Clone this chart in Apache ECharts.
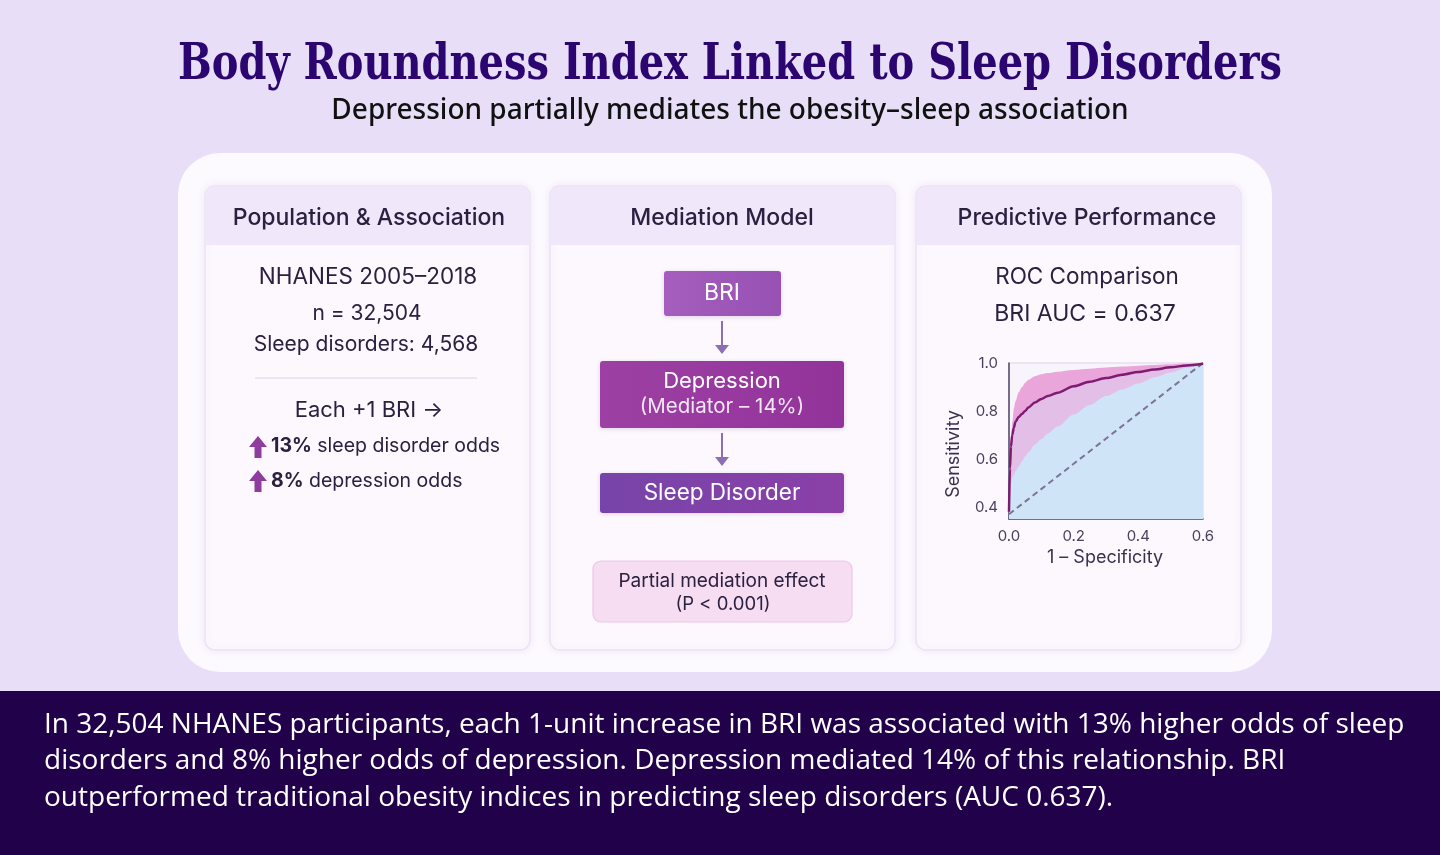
<!DOCTYPE html>
<html>
<head>
<meta charset="utf-8">
<title>Body Roundness Index Linked to Sleep Disorders</title>
<script src="https://cdn.jsdelivr.net/npm/echarts@6/dist/echarts.min.js"></script>
<style>
html, body { margin: 0; padding: 0; background: #E9DEF8; }
#main { width: 1440px; height: 855px; }
</style>
</head>
<body>
<div id="main"></div>
<script>
// ---- data ----
const fprValues = [0, 0.003, 0.006, 0.01, 0.015, 0.02, 0.03, 0.04, 0.05, 0.06, 0.08, 0.1, 0.12, 0.15, 0.2, 0.25, 0.3, 0.35, 0.4, 0.45, 0.5, 0.55, 0.6];
const rocTpr = [0.38, 0.56, 0.65, 0.70, 0.73, 0.755, 0.775, 0.788, 0.80, 0.815, 0.835, 0.85, 0.862, 0.876, 0.903, 0.922, 0.937, 0.951, 0.963, 0.973, 0.982, 0.99, 0.997];
const upperTpr = [0.40, 0.56, 0.67, 0.75, 0.81, 0.84, 0.878, 0.9, 0.918, 0.93, 0.945, 0.953, 0.958, 0.964, 0.971, 0.976, 0.981, 0.985, 0.989, 0.992, 0.995, 0.998, 1.0];
const lowerTpr = [0.36, 0.44, 0.50, 0.52, 0.535, 0.548, 0.57, 0.59, 0.61, 0.627, 0.66, 0.682, 0.706, 0.735, 0.785, 0.825, 0.862, 0.89, 0.915, 0.94, 0.96, 0.98, 1.0];
const chanceLine = [[0, 0.37], [0.6, 1.0]];
const yTickValues = [0.4, 0.6, 0.8, 1.0];

// ---- texts ----
const titleText = 'Body Roundness Index Linked to Sleep Disorders';
const subtitleText = 'Depression partially mediates the obesity\u2013sleep association';
const panelTitles = ['Population & Association', 'Mediation Model', 'Predictive Performance'];
const populationLines = ['NHANES 2005\u20132018', 'n = 32,504', 'Sleep disorders: 4,568'];
const effectHeading = 'Each +1 BRI \u2192';
const effectLines = [['13%', ' sleep disorder odds'], ['8%', ' depression odds']];
const mediationNodes = ['BRI', 'Depression\n(Mediator \u2013 14%)', 'Sleep Disorder'];
const mediationNote = 'Partial mediation effect\n(P < 0.001)';
const rocLines = ['ROC Comparison', 'BRI AUC = 0.637'];
const footerLines = [
    'In 32,504 NHANES participants, each 1-unit increase in BRI was associated with 13% higher odds of sleep',
    'disorders and 8% higher odds of depression. Depression mediated 14% of this relationship. BRI',
    'outperformed traditional obesity indices in predicting sleep disorders (AUC 0.637).'
];

const ink = '#2A2140';
const sans = 'Inter, "Noto Sans", sans-serif';

function zip(xs, ys) {
    return xs.map((x, i) => [x, ys[i]]);
}

// fit a string to the width it has in the picture
function fitScale(str, font, target) {
    const ctx = document.createElement('canvas').getContext('2d');
    ctx.font = font;
    return target / ctx.measureText(str).width;
}

function text(str, x, y, font, fill, extra) {
    return Object.assign({
        type: 'text',
        z: 10,
        style: {
            text: str, x: x, y: y, font: font, fill: fill,
            align: 'center', verticalAlign: 'middle',
            textAlign: 'center', textVerticalAlign: 'middle'
        }
    }, extra || {});
}

function panel(x, w, title, cx) {
    return [
        {
            type: 'rect', z: -4,
            shape: { x: x, y: 186, width: w, height: 464, r: 10 },
            style: { fill: '#FCF8FE', stroke: '#ECE2F4', lineWidth: 1.5, shadowBlur: 8, shadowColor: 'rgba(120,80,170,0.10)' }
        },
        {
            type: 'rect', z: -3,
            shape: { x: x + 1, y: 187, width: w - 2, height: 58, r: [9, 9, 0, 0] },
            style: { fill: '#F1E7FA' }
        },
        text(title, cx, 218, '500 23px ' + sans, ink)
    ];
}

function upArrow(x, y) {
    return {
        type: 'polygon', z: 10,
        shape: { points: [[x, y], [x + 9, y + 11], [x + 3.5, y + 11], [x + 3.5, y + 22], [x - 3.5, y + 22], [x - 3.5, y + 11], [x - 9, y + 11]] },
        style: { fill: '#8E3C9E' }
    };
}

function downArrow(x, y0, y1) {
    return [
        { type: 'line', z: 10, shape: { x1: x, y1: y0, x2: x, y2: y1 - 8 }, style: { stroke: '#8C6EB4', lineWidth: 2 } },
        { type: 'polygon', z: 10, shape: { points: [[x - 7, y1 - 9], [x + 7, y1 - 9], [x, y1]] }, style: { fill: '#8C6EB4' } }
    ];
}

function box(x, y, w, h, c0, c1) {
    return {
        type: 'rect', z: 5,
        shape: { x: x, y: y, width: w, height: h, r: 3 },
        style: {
            fill: new echarts.graphic.LinearGradient(0, 0, 1, 0, [{ offset: 0, color: c0 }, { offset: 1, color: c1 }]),
            shadowBlur: 4, shadowColor: 'rgba(90,30,120,0.18)', shadowOffsetY: 1
        }
    };
}

const titleFont = 'bold 50px "DejaVu Serif"';
const sx = fitScale(titleText, titleFont, 1104);

const elements = [].concat(
    // big white card
    [{
        type: 'rect', z: -6,
        shape: { x: 178, y: 153, width: 1094, height: 519, r: 42 },
        style: { fill: '#FDFAFF' }
    }],
    // footer band
    [{
        type: 'rect', z: -6,
        shape: { x: 0, y: 691, width: 1440, height: 164 },
        style: { fill: '#21024A' }
    }],
    [
        text(titleText, 730, 66, titleFont, '#2B0570', { scaleX: sx, originX: 730, originY: 66 }),
        text(subtitleText, 730, 111, '500 28px "Noto Sans"', '#111111')
    ],
    panel(205, 325, panelTitles[0], 369),
    panel(550, 345, panelTitles[1], 722),
    panel(916, 325, panelTitles[2], 1087),

    // population & association
    [
        text(populationLines[0], 368, 277, '22.5px ' + sans, ink),
        text(populationLines[1], 367, 314, '21px ' + sans, ink),
        text(populationLines[2], 366, 345, '21px ' + sans, ink),
        { type: 'line', z: 10, shape: { x1: 255, y1: 378, x2: 477, y2: 378 }, style: { stroke: '#DCD2E8', lineWidth: 1.2 } },
        text(effectHeading, 369, 410, '22px ' + sans, ink)
    ],
    effectLines.map((ln, i) => ({
        type: 'text', z: 10,
        style: {
            text: '{b|' + ln[0] + '}{n|' + ln[1] + '}',
            x: 271, y: 446 + i * 35,
            align: 'left', verticalAlign: 'middle', textAlign: 'left', textVerticalAlign: 'middle',
            rich: {
                b: { fontFamily: sans, fontSize: 19.5, fontWeight: 'bold', fill: ink },
                n: { fontFamily: sans, fontSize: 19.5, fill: ink }
            }
        }
    })),
    [upArrow(258, 436), upArrow(258, 470)],

    // mediation model
    [
        box(664, 271, 117, 45, '#A55EBD', '#9751B3'),
        text(mediationNodes[0], 722, 293, '23px ' + sans, '#FFFFFF'),
        box(600, 361, 244, 67, '#9D40A3', '#92339A'),
        text(mediationNodes[1].split('\n')[0], 722, 381, '22px ' + sans, '#FFFFFF'),
        text(mediationNodes[1].split('\n')[1], 722, 407, '20.5px ' + sans, '#F4E6F6'),
        box(600, 473, 244, 40, '#7744A9', '#8B40A7'),
        text(mediationNodes[2], 722, 493, '22.5px ' + sans, '#FFFFFF'),
        {
            type: 'rect', z: 5,
            shape: { x: 593, y: 561, width: 259, height: 61, r: 8 },
            style: { fill: '#F7DDF2', stroke: '#EEC6E7', lineWidth: 1.2 }
        },
        text(mediationNote.split('\n')[0], 722, 581, '19px ' + sans, ink),
        text(mediationNote.split('\n')[1], 723, 604, '18.5px ' + sans, ink)
    ],
    downArrow(722, 321, 354),
    downArrow(722, 433, 466),

    // predictive performance
    [
        text(rocLines[0], 1087, 277, '22.5px ' + sans, ink),
        text(rocLines[1], 1085, 314, '23px ' + sans, ink),
        text('Sensitivity', 954, 454, '18px ' + sans, '#3A3050', { rotation: Math.PI / 2, originX: 954, originY: 454 }),
        text('1 \u2013 Specificity', 1105, 558, '18px ' + sans, '#3A3050')
    ],

    // footer text
    footerLines.map((ln, i) => ({
        type: 'text', z: 10,
        style: {
            text: ln, x: 44, y: 725 + i * 36.5,
            font: '28px "Open Sans"', fill: '#FFFFFF',
            align: 'left', verticalAlign: 'middle', textAlign: 'left', textVerticalAlign: 'middle'
        }
    }))
);

const chart = echarts.init(document.getElementById('main'), null, { renderer: 'canvas' });

const option = {
    backgroundColor: '#E9DEF8',
    animation: false,
    grid: {
        left: 1009, top: 363, width: 194, height: 156,
        show: true, backgroundColor: '#F8F4FB', borderColor: '#DDD5E6', borderWidth: 1
    },
    xAxis: {
        type: 'value', min: 0, max: 0.6, interval: 0.2,
        axisLine: { show: true, onZero: false, lineStyle: { color: '#4E4466', width: 1.5 } },
        axisTick: { show: false },
        splitLine: { show: false },
        axisLabel: { color: '#4A4060', fontSize: 15, fontFamily: sans, margin: 10, formatter: v => v.toFixed(1) }
    },
    yAxis: {
        type: 'value', min: 0.35, max: 1.0,
        axisLine: { show: true, onZero: false, lineStyle: { color: '#4E4466', width: 1.5 } },
        axisTick: { show: false },
        splitLine: { show: false },
        axisLabel: { color: '#4A4060', fontSize: 15, fontFamily: sans, margin: 11, customValues: yTickValues, formatter: v => v.toFixed(1) }
    },
    graphic: { elements: elements },
    series: [
        {
            name: 'upper CI', type: 'line', z: 2,
            data: zip(fprValues, upperTpr),
            smooth: 0.3, smoothMonotone: 'x', symbol: 'none',
            lineStyle: { width: 0 },
            areaStyle: { color: '#EAA6DA', opacity: 1, origin: 'start' }
        },
        {
            name: 'roc band', type: 'line', z: 2,
            data: zip(fprValues, rocTpr),
            smooth: 0.3, smoothMonotone: 'x', symbol: 'none',
            lineStyle: { width: 0 },
            areaStyle: { color: '#E3BEE7', opacity: 1, origin: 'start' }
        },
        {
            name: 'lower CI', type: 'line', z: 2,
            data: zip(fprValues, lowerTpr),
            smooth: 0.3, smoothMonotone: 'x', symbol: 'none',
            lineStyle: { width: 0 },
            areaStyle: { color: '#D0E4F7', opacity: 1, origin: 'start' }
        },
        {
            name: 'chance', type: 'line', z: 3,
            data: chanceLine, symbol: 'none',
            lineStyle: { color: '#7D7394', width: 2, type: [6, 4] }
        },
        {
            name: 'BRI', type: 'line', z: 4,
            data: zip(fprValues, rocTpr),
            smooth: 0.3, smoothMonotone: 'x', symbol: 'none',
            lineStyle: { color: '#7E1C72', width: 2.5 }
        }
    ]
};

chart.setOption(option);
</script>
</body>
</html>
